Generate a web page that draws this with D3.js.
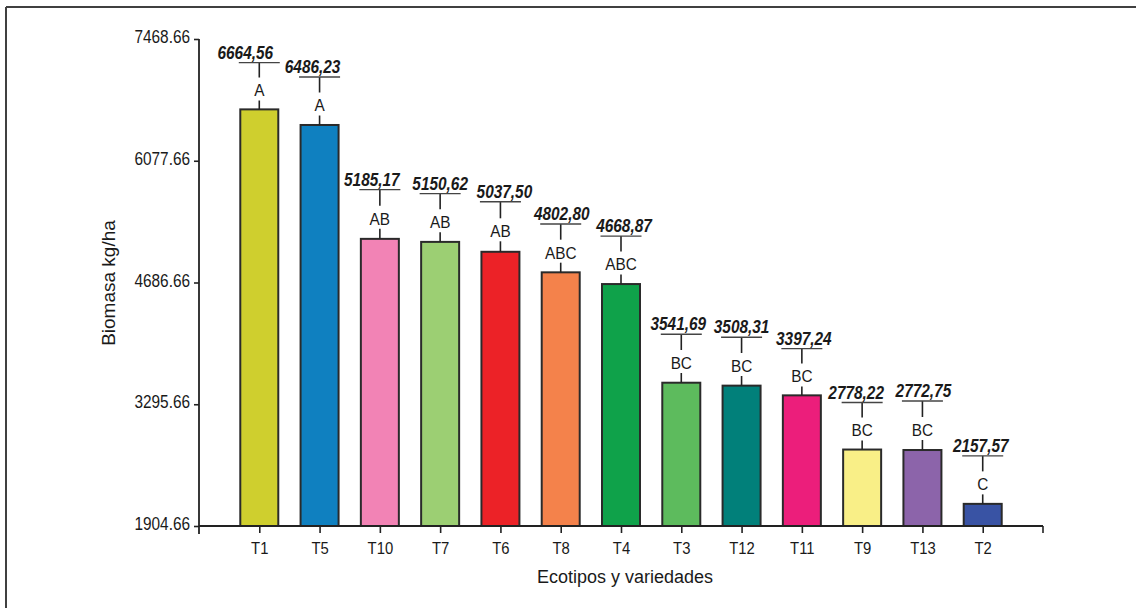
<!DOCTYPE html>
<html>
<head>
<meta charset="utf-8">
<script src="https://cdn.jsdelivr.net/npm/d3@7"></script>
<style>
  html, body { margin: 0; padding: 0; background: #fff; }
  svg { display: block; }
  text { font-family: "Liberation Sans", Arial, sans-serif; fill: #1a1a1a; }
</style>
</head>
<body>
<svg id="chart" width="1136" height="608"></svg>
<script>
// Biomass (kg/ha) per ecotype / variety, sorted from highest to lowest
const categories = ["T1", "T5", "T10", "T7", "T6", "T8", "T4", "T3", "T12", "T11", "T9", "T13", "T2"];
const biomass = [6664.56, 6486.23, 5185.17, 5150.62, 5037.50, 4802.80, 4668.87, 3541.69, 3508.31, 3397.24, 2778.22, 2772.75, 2157.57];
const errorBars = [534, 548, 563, 552, 571, 552, 548, 553, 552, 534, 537, 560, 548];
const groups = ["A", "A", "AB", "AB", "AB", "ABC", "ABC", "BC", "BC", "BC", "BC", "BC", "C"];
const yTicks = [1904.66, 3295.66, 4686.66, 6077.66, 7468.66];
const barColors = ["#cfcf2e", "#0f80c0", "#f283b5", "#9ccf73", "#ec2227", "#f4824b", "#0fa24a",
                   "#5dbb5d", "#01807a", "#ec1e7b", "#f9ef87", "#8c64aa", "#3953a4"];

const svg = d3.select("#chart");
const plotLeft = 199, plotRight = 1043, plotTop = 39, plotBottom = 526;

// small horizontal nudges of the value labels
const labelNudge = [-14, -7, -8, 0, 4, 1, 3, -3, 0, 2, -6, 1, -2];

const x = d3.scalePoint().domain(categories).range([plotLeft, plotRight]).padding(1);
const y = d3.scaleLinear().domain([yTicks[0], yTicks[yTicks.length - 1]]).range([plotBottom, plotTop]);

const barW = 38;
const fmtComma = v => d3.format(".2f")(v).replace(".", ",");

// outer frame (top and left edges)
svg.append("line").attr("x1", 6).attr("y1", 7).attr("x2", 1136).attr("y2", 7)
  .attr("stroke", "#404040").attr("stroke-width", 2);
svg.append("line").attr("x1", 6).attr("y1", 7).attr("x2", 6).attr("y2", 608)
  .attr("stroke", "#404040").attr("stroke-width", 2);

// condensed text helper
function ctext(g, px, py, str, opts) {
  return g.append("text")
    .attr("transform", `translate(${px},${py}) scale(${opts.sx || 1},1)`)
    .attr("text-anchor", opts.anchor || "middle")
    .style("font-size", opts.size + "px")
    .style("font-weight", opts.weight || "normal")
    .style("font-style", opts.style || "normal")
    .text(str);
}

const data = categories.map((c, i) => ({
  cat: c, value: biomass[i], err: errorBars[i], grp: groups[i], color: barColors[i], nudge: labelNudge[i]
}));

// bars
svg.append("g").selectAll("rect").data(data).join("rect")
  .attr("x", d => x(d.cat) - barW / 2)
  .attr("y", d => y(d.value))
  .attr("width", barW)
  .attr("height", d => y(y.domain()[0]) - y(d.value))
  .attr("fill", d => d.color)
  .attr("stroke", "#2a2a2a")
  .attr("stroke-width", 2);

// error bars with group letters set into the whisker
const eb = svg.append("g");
data.forEach(d => {
  const cx = x(d.cat);
  const yBar = y(d.value);
  const yCap = y(d.value + d.err);
  const mid = (yBar + yCap) / 2 + 4.5;
  eb.append("line").attr("x1", cx).attr("x2", cx).attr("y1", yCap).attr("y2", mid - 13)
    .attr("stroke", "#222").attr("stroke-width", 1.6);
  eb.append("line").attr("x1", cx).attr("x2", cx).attr("y1", mid + 10).attr("y2", yBar)
    .attr("stroke", "#222").attr("stroke-width", 1.6);
  eb.append("line").attr("x1", cx - 20.5).attr("x2", cx + 20.5).attr("y1", yCap).attr("y2", yCap)
    .attr("stroke", "#444").attr("stroke-width", 1.4);
  ctext(eb, cx, mid + 5.9, d.grp, { size: 16.5, sx: 0.93 });
  ctext(eb, cx + d.nudge, yCap - 4, fmtComma(d.value),
    { size: 17.5, sx: 0.88, weight: "bold", style: "italic" });
});

// y axis
const yAxis = svg.append("g").attr("transform", `translate(${plotLeft},0)`)
  .call(d3.axisLeft(y).tickValues(yTicks).tickSize(5).tickFormat(d3.format(".2f")));
yAxis.select(".domain").remove();
yAxis.selectAll(".tick line").attr("stroke", "#222").attr("stroke-width", 1.6);
yAxis.selectAll(".tick text")
  .attr("x", 0).attr("dy", null).attr("y", 0)
  .attr("transform", "translate(-9,3.5) scale(0.81,1)")
  .attr("text-anchor", "end")
  .style("font-size", "19px")
  .attr("fill", "#1a1a1a")
  .attr("font-family", null);
svg.append("line").attr("x1", plotLeft).attr("x2", plotLeft).attr("y1", plotTop).attr("y2", plotBottom + 8)
  .attr("stroke", "#222").attr("stroke-width", 1.8);

// x axis
const xAxis = svg.append("g").attr("transform", `translate(0,${plotBottom})`)
  .call(d3.axisBottom(x).tickSize(7).tickSizeOuter(0));
xAxis.select(".domain").remove();
xAxis.selectAll(".tick line").attr("stroke", "#222").attr("stroke-width", 1.6);
xAxis.selectAll(".tick text")
  .attr("y", 0).attr("dy", null)
  .attr("transform", "translate(0,28.3) scale(0.9,1)")
  .style("font-size", "16.5px")
  .attr("fill", "#1a1a1a")
  .attr("font-family", null);
svg.append("line").attr("x1", plotLeft).attr("x2", plotRight).attr("y1", plotBottom).attr("y2", plotBottom)
  .attr("stroke", "#222").attr("stroke-width", 1.8);
svg.append("line").attr("x1", plotRight).attr("x2", plotRight).attr("y1", plotBottom).attr("y2", plotBottom + 7)
  .attr("stroke", "#222").attr("stroke-width", 1.6);

// axis titles
svg.append("text")
  .attr("transform", `translate(115,${(plotTop + plotBottom) / 2 + 0.5}) rotate(-90)`)
  .attr("text-anchor", "middle")
  .style("font-size", "19px")
  .text("Biomasa kg/ha");
svg.append("text")
  .attr("x", 625).attr("y", 583.3)
  .attr("text-anchor", "middle")
  .style("font-size", "18px")
  .text("Ecotipos y variedades");
</script>
</body>
</html>
